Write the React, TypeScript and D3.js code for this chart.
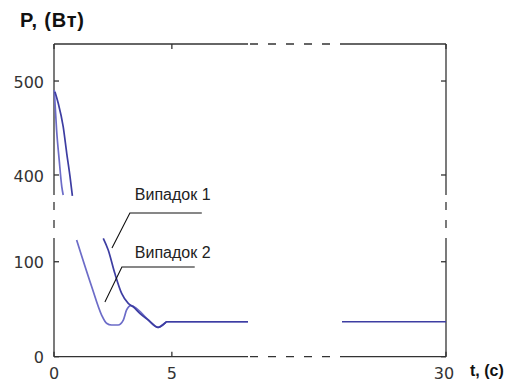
import { useEffect, useRef } from 'react';
import * as d3 from 'd3';

// data: [t (s), P (W)]
const caseOneUpper: [number, number][] = [
  [0.04, 488.6], [0.18, 476.3], [0.39, 451.4], [0.54, 423.1], [0.68, 398.2], [0.78, 377.7],
];
const caseTwoUpper: [number, number][] = [
  [0.01, 490.4], [0.11, 447.9], [0.22, 416], [0.33, 387.6], [0.39, 378.7],
];
const caseOneLower: [number, number][] = [
  [2.09, 124.6], [2.3, 112.3], [2.58, 87.8], [2.87, 66.7], [3.15, 56.2], [3.36, 52.6],
  [3.64, 45.7], [4.0, 38.6], [4.42, 30.9], [4.7, 35.2], [4.78, 36.8], [8.23, 36.8],
];
const caseTwoLower: [number, number][] = [
  [0.96, 122.8], [1.6, 73.7], [2.02, 43.9], [2.23, 35.2], [2.44, 33.4], [2.72, 33.4],
  [2.94, 38.6], [3.08, 49.2], [3.26, 53.7], [3.5, 50.9], [3.93, 40.4], [4.42, 30.9],
  [4.7, 35.2], [4.78, 36.8], [8.23, 36.8],
];
const steadyTail: [number, number][] = [[25.6, 36.8], [30, 36.8]];

const xTicksLeft = [0, 5];
const xTicksRight = [30];
const yTicksUpper = [400, 500];
const yTicksLower = [0, 100];

const labels = ['Випадок 1', 'Випадок 2'];
// leader lines: [text anchor, elbow, end of horizontal, point on curve] in data units
const leaders: [number, number][][] = [
  [[3.43, 165], [3.22, 151.3], [6.27, 151.3], [2.46, 114.4]],
  [[3.43, 103.9], [2.88, 94.4], [5.97, 94.4], [2.16, 57.6]],
];

export default function App() {
  const svgRef = useRef<SVGSVGElement | null>(null);

  useEffect(() => {
    const svg = d3.select(svgRef.current);
    svg.selectAll('*').remove();

    const left = 54, right = 446, top = 44, bottom = 356.7;
    const xL = d3.scaleLinear().domain([0, 8.23]).range([left, 248]);
    const xR = d3.scaleLinear().domain([25.6, 30]).range([342, right]);
    const yU = d3.scaleLinear().domain([378.7, 539.4]).range([195, top]);
    const yB = d3.scaleLinear().domain([0, 125]).range([bottom, 238]);

    const axisColor = '#333';
    const ax = svg.append('g').attr('stroke', axisColor).attr('stroke-width', 1.3).attr('fill', 'none');
    const seg = (x1: number, y1: number, x2: number, y2: number, dashed = false) => {
      const l = ax.append('line').attr('x1', x1).attr('y1', y1).attr('x2', x2).attr('y2', y2);
      if (dashed) l.attr('stroke-dasharray', '8,10');
    };
    // top & bottom, broken in x
    for (const y of [top, bottom]) {
      seg(left, y, xL.range()[1], y);
      seg(xL.range()[1] + 2, y, xR.range()[0], y, true);
      seg(xR.range()[0], y, right, y);
    }
    // left & right, broken in y
    for (const x of [left, right]) {
      seg(x, top, x, yU.range()[0]);
      seg(x, yU.range()[0] + 7, x, yB.range()[1], true);
      seg(x, yB.range()[1], x, bottom);
    }

    // ticks (inward)
    const tl = 5;
    const xTickPos = [...xTicksLeft.map((d) => xL(d)), ...xTicksRight.map((d) => xR(d))];
    for (const px of xTickPos) {
      seg(px, bottom, px, bottom - tl);
      seg(px, top, px, top + tl);
    }
    const yTickPos = [...yTicksUpper.map((d) => yU(d)), ...yTicksLower.map((d) => yB(d))];
    for (const py of yTickPos) {
      seg(left, py, left + tl, py);
      seg(right, py, right - tl, py);
    }

    // tick labels
    const tickFont = 'DejaVu Sans, sans-serif';
    const yLabels = [
      ...yTicksUpper.map((d) => ({ v: d, y: yU(d) })),
      ...yTicksLower.map((d) => ({ v: d, y: yB(d) })),
    ];
    svg.append('g').selectAll('text').data(yLabels).join('text')
      .attr('x', left - 10).attr('y', (d) => d.y + 1).attr('dy', '0.35em')
      .attr('text-anchor', 'end').attr('font-family', tickFont).attr('font-size', 16)
      .attr('fill', '#333').text((d) => d.v);
    const xLabels = [
      ...xTicksLeft.map((d) => ({ v: d, x: xL(d) })),
      ...xTicksRight.map((d) => ({ v: d, x: xR(d) - 2 })),
    ];
    svg.append('g').selectAll('text').data(xLabels).join('text')
      .attr('x', (d) => d.x).attr('y', bottom + 22)
      .attr('text-anchor', 'middle').attr('font-family', tickFont).attr('font-size', 16)
      .attr('fill', '#333').text((d) => d.v);

    // axis titles
    svg.append('text').attr('x', 20).attr('y', 27).attr('font-family', 'Arial, Liberation Sans, sans-serif')
      .attr('font-weight', 'bold').attr('font-size', 20).attr('letter-spacing', 0.8)
      .attr('fill', '#111').text('P, (Вт)');
    svg.append('text').attr('x', 470).attr('y', 376).attr('font-family', 'Arial, Liberation Sans, sans-serif')
      .attr('font-weight', 'bold').attr('font-size', 16).attr('fill', '#111').text('t, (c)');

    // curves
    const lineL = (y: d3.ScaleLinear<number, number>) =>
      d3.line<[number, number]>().x((d) => xL(d[0])).y((d) => y(d[1])).curve(d3.curveMonotoneX);
    const dark = '#3d3da2';
    const light = '#6c6cc8';
    const curves = svg.append('g').attr('fill', 'none').attr('stroke-width', 1.7);
    curves.append('path').attr('d', lineL(yU)(caseTwoUpper)).attr('stroke', light);
    curves.append('path').attr('d', lineL(yU)(caseOneUpper)).attr('stroke', dark);
    curves.append('path').attr('d', lineL(yB)(caseTwoLower)).attr('stroke', light);
    curves.append('path').attr('d', lineL(yB)(caseOneLower)).attr('stroke', dark);
    curves.append('path')
      .attr('d', d3.line<[number, number]>().x((d) => xR(d[0])).y((d) => yB(d[1]))(steadyTail))
      .attr('stroke', dark);

    // annotations
    leaders.forEach((pts, i) => {
      const [txt, elbow, hEnd, tip] = pts;
      svg.append('text').attr('x', xL(txt[0])).attr('y', yB(txt[1]))
        .attr('font-family', 'Arial, Liberation Sans, sans-serif').attr('font-size', 16)
        .attr('fill', '#222').text(labels[i]);
      svg.append('polyline')
        .attr('points', [tip, elbow, hEnd].map((p) => `${xL(p[0])},${yB(p[1])}`).join(' '))
        .attr('fill', 'none').attr('stroke', '#111').attr('stroke-width', 1.1);
    });

    return () => {
      svg.selectAll('*').remove();
    };
  }, []);

  return (
    <svg
      ref={svgRef}
      width={512}
      height={387}
      style={{ position: 'absolute', left: 0, top: 0, background: '#fff' }}
    />
  );
}
